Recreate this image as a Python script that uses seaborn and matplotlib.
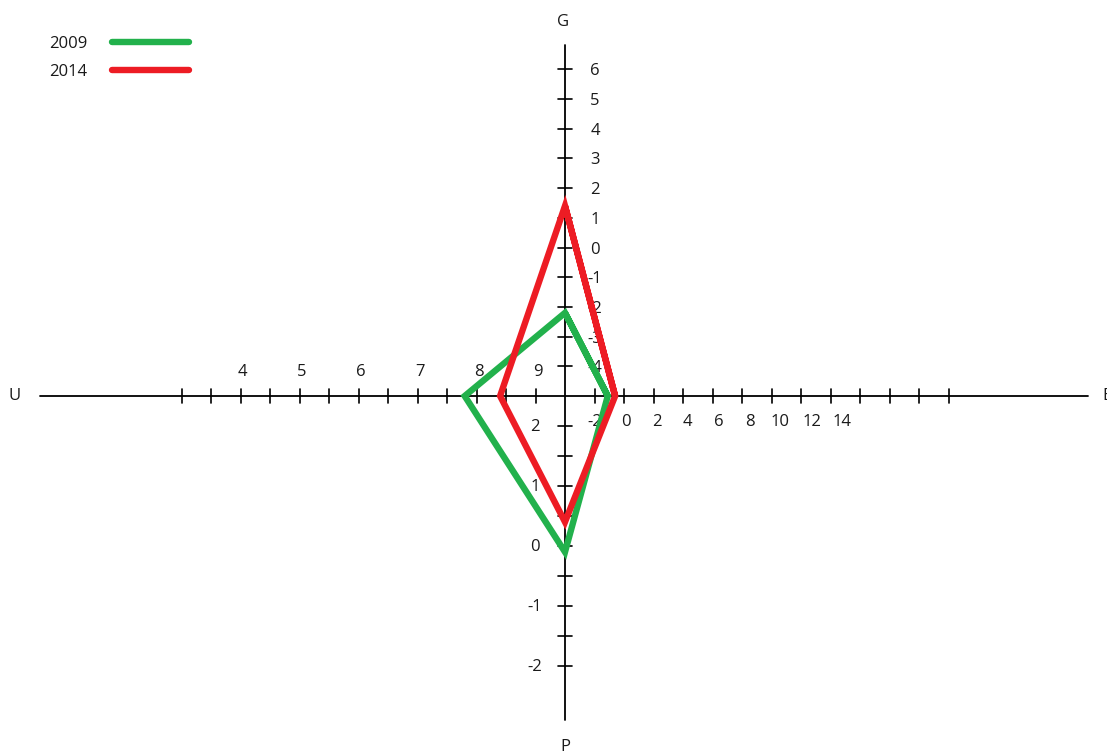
import numpy as np
import pandas as pd
import matplotlib
matplotlib.use("Agg")
import matplotlib.pyplot as plt
from matplotlib.lines import Line2D
import seaborn as sns

# ---------------- data ----------------
years = ["2009", "2014"]
axes_names = ["G", "E", "P", "U"]          # top, right, bottom, left
values_2009 = [-2.2, -1.1, -0.1, 7.8]
values_2014 = [1.4, -0.6, 0.4, 8.4]
colors = ["#22b14c", "#ed1c24"]

g_ticks = [-4, -3, -2, -1, 0, 1, 2, 3, 4, 5, 6]
g_labels = ["-4", "-3", "-2", "-1", "0", "1", "2", "3", "4", "5", "6"]
e_ticks = [-2, 0, 2, 4, 6, 8, 10, 12, 14, 16, 18, 20, 22]
e_labels = ["-2", "0", "2", "4", "6", "8", "10", "12", "14"]
p_ticks = [2, 1.5, 1, 0.5, 0, -0.5, -1, -1.5, -2]
p_labels = ["2", "1", "0", "-1", "-2"]
u_ticks = [3, 3.5, 4, 4.5, 5, 5.5, 6, 6.5, 7, 7.5, 8, 8.5, 9]
u_labels = ["4", "5", "6", "7", "8", "9"]

# ---------------- custom four-direction scales ----------------
W, H = 1107, 754
CX, CY = 565, 396
# axis: (value at centre, pixels per unit, dx, dy) -- dx/dy = direction of increasing value
scales = {
    "G": (-5.0, 29.7, 0, -1),
    "E": (-4.0, 14.75, 1, 0),
    "P": (2.5, 60.0, 0, -1),
    "U": (9.5, 59.0, 1, 0),
}
E_LABEL_PX = 15.5


def pos(axis, v):
    c, k, dx, dy = scales[axis]
    d = (v - c) * k
    return CX + dx * d, CY + dy * d


rows = []
for yr, vals in zip(years, [values_2009, values_2014]):
    order = list(range(len(axes_names))) + [0, 1]
    for i, idx in enumerate(order):
        x, y = pos(axes_names[idx], vals[idx])
        rows.append({"year": yr, "step": i, "x": x, "y": y})
df = pd.DataFrame(rows)

# ---------------- figure ----------------
sns.set_theme(style="white")
plt.rcParams["font.family"] = ["Open Sans", "DejaVu Sans"]
TXT = "#1a1a1a"
FS = 12

fig = plt.figure(figsize=(W / 100, H / 100), dpi=100)
ax = fig.add_axes([0, 0, 1, 1])

# axis lines
ax.plot([40, 1088], [CY, CY], color="black", lw=1.3, zorder=1)
ax.plot([CX, CX], [45, 720], color="black", lw=1.3, zorder=1)

TL = 7
for v in g_ticks:
    x, y = pos("G", v)
    ax.plot([x - TL, x + TL], [y, y], color="black", lw=1.2, zorder=1)
for v, lab in zip(g_ticks, g_labels):
    x, y = pos("G", v)
    ax.text(x + 30, y + 2, lab, ha="center", va="center", fontsize=FS, color=TXT)

for v in e_ticks:
    x, y = pos("E", v)
    ax.plot([x, x], [y - TL, y + TL], color="black", lw=1.2, zorder=1)
x0 = pos("E", -2)[0]
for lab in e_labels:
    x = x0 + (float(lab) + 2) * E_LABEL_PX
    ax.text(x, CY + 26, lab, ha="center", va="center", fontsize=FS, color=TXT)

for v in p_ticks:
    x, y = pos("P", v)
    ax.plot([x - TL, x + TL], [y, y], color="black", lw=1.2, zorder=1)
for lab in p_labels:
    x, y = pos("P", float(lab))
    ax.text(x - 30, y + 1, lab, ha="center", va="center", fontsize=FS, color=TXT)

for v in u_ticks:
    x, y = pos("U", v)
    ax.plot([x, x], [y - TL, y + TL], color="black", lw=1.2, zorder=1)
for lab in u_labels:
    x, y = pos("U", float(lab))
    ax.text(x + 2, CY - 24, lab, ha="center", va="center", fontsize=FS, color=TXT)

# axis names
ax.text(CX - 2, 22, "G", ha="center", va="center", fontsize=FS, color=TXT)
ax.text(CX, 747, "P", ha="center", va="center", fontsize=FS, color=TXT)
ax.text(15, CY, "U", ha="center", va="center", fontsize=FS, color=TXT)
ax.text(1102, CY, "E", ha="left", va="center", fontsize=FS, color=TXT)

# polygons
sns.lineplot(data=df, x="x", y="y", hue="year", palette=colors, sort=False,
             estimator=None, linewidth=4.6, legend=False, ax=ax,
             solid_joinstyle="miter", solid_capstyle="butt", zorder=3)
ax.set_xlim(0, W)
ax.set_ylim(H, 0)
ax.axis("off")

handles = [Line2D([0], [0], color=c, lw=4.6, solid_capstyle="round") for c in colors]
ax.legend(handles, years, markerfirst=False, loc="upper left",
          bbox_to_anchor=(49, 36), bbox_transform=ax.transData,
          frameon=False, fontsize=FS, handlelength=4.6, handletextpad=1.5,
          labelspacing=0.7, borderpad=0, borderaxespad=0,
          labelcolor=TXT)

fig.savefig("out.png", dpi=100)
